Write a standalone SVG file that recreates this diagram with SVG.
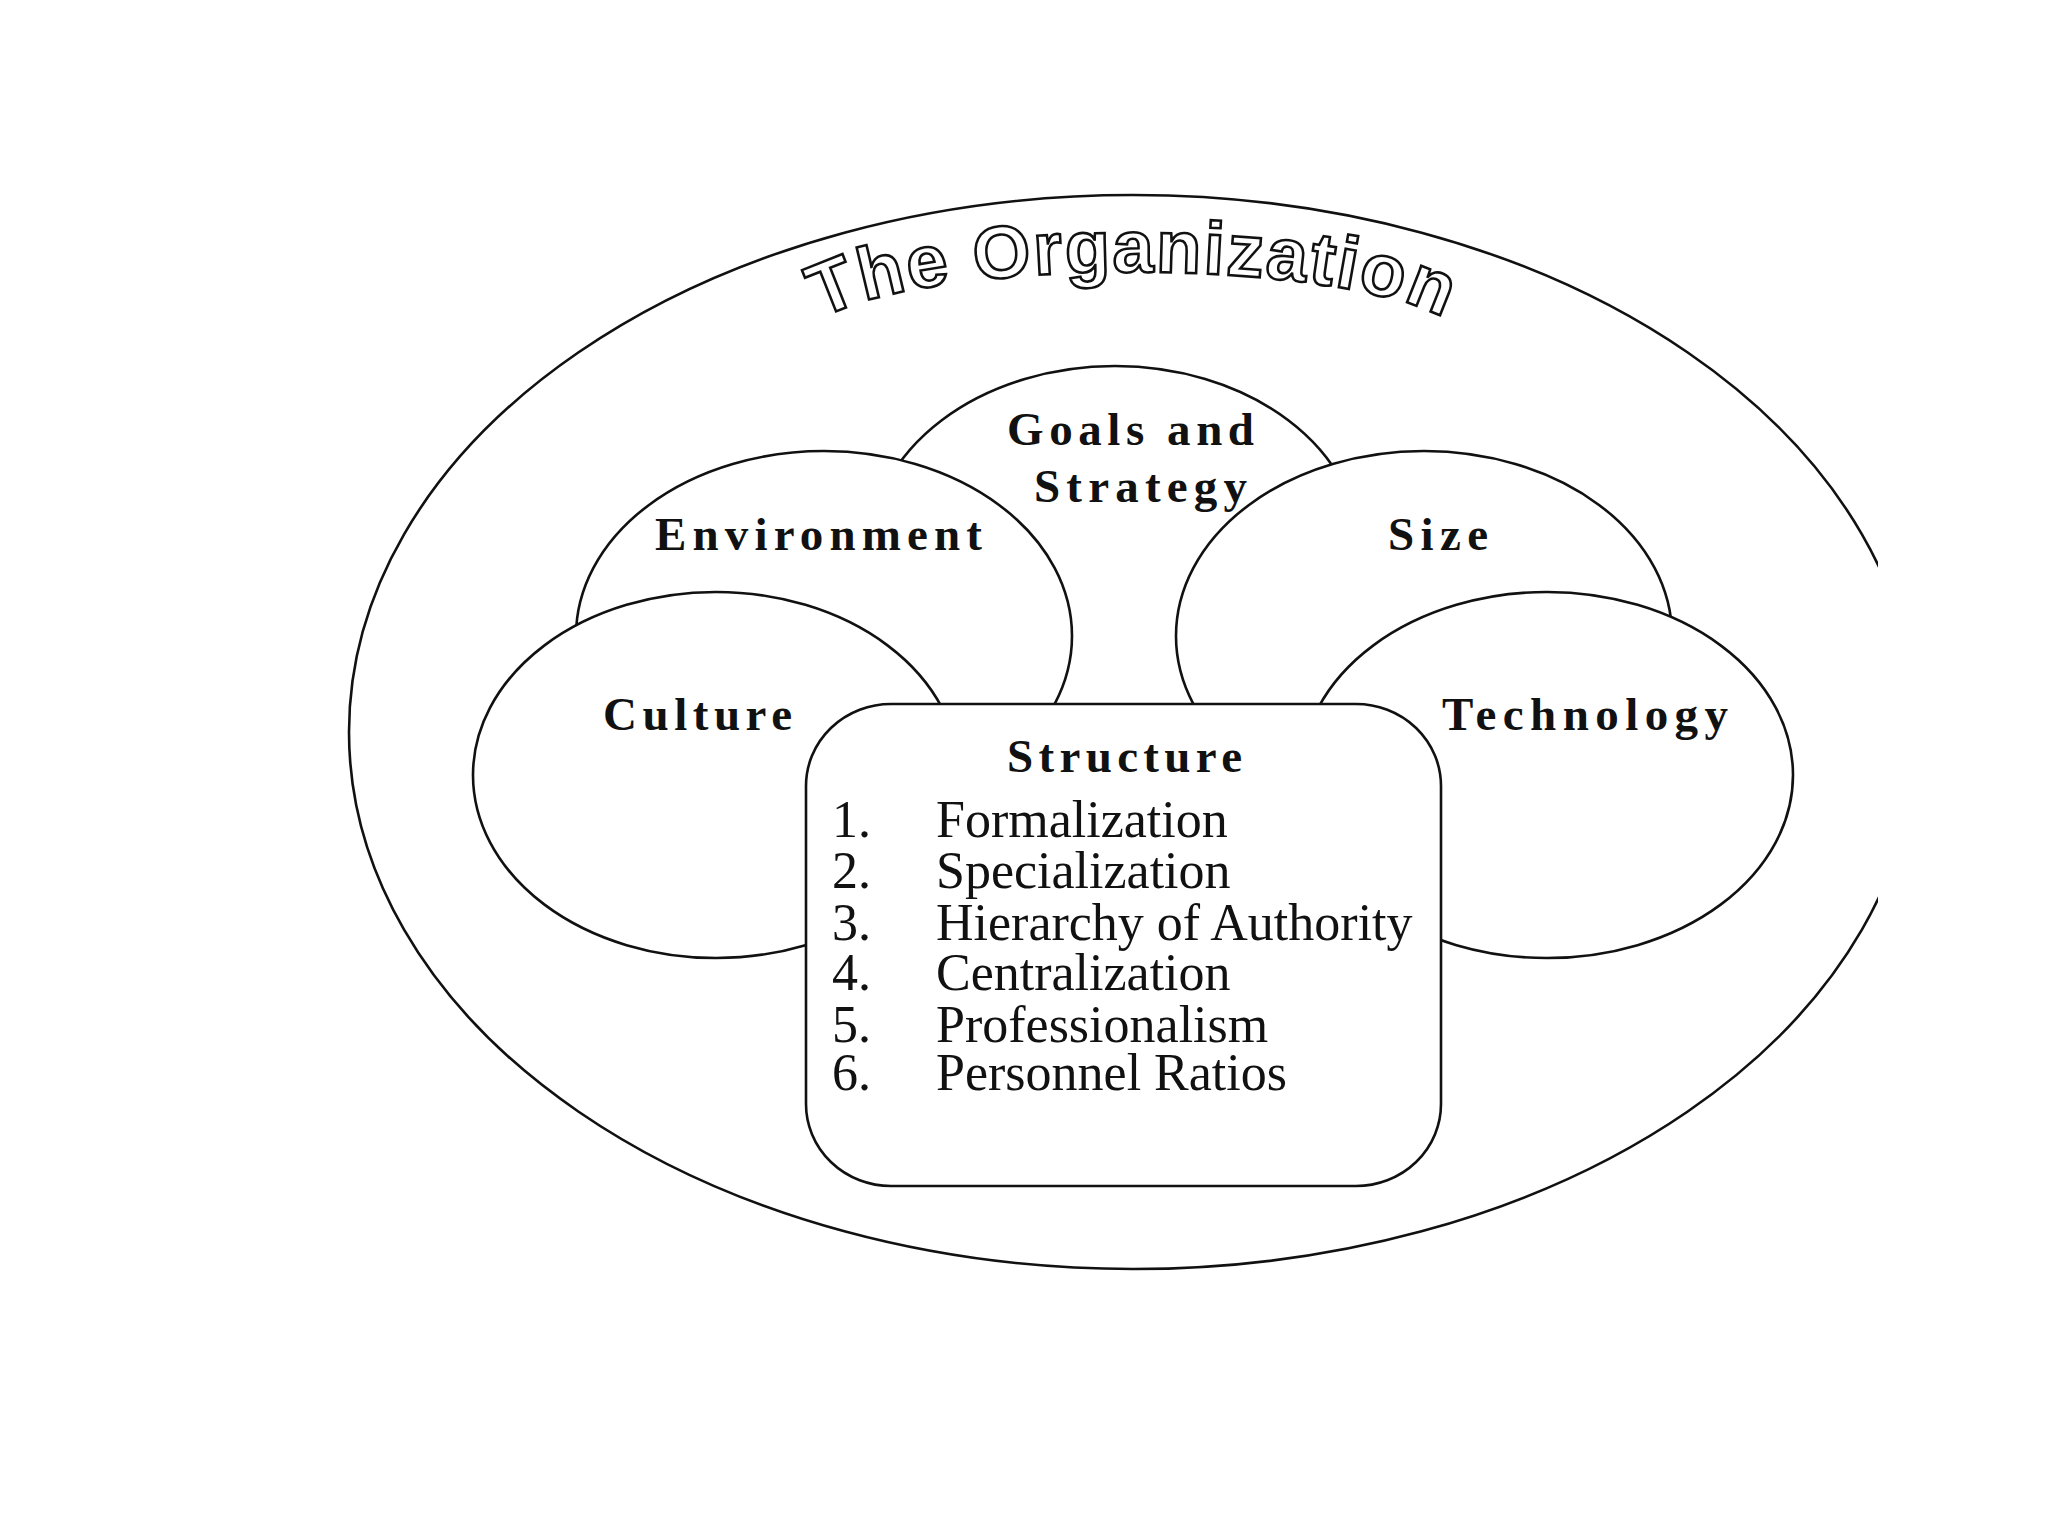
<svg xmlns="http://www.w3.org/2000/svg" width="2048" height="1536" viewBox="0 0 2048 1536">
<style>
.shape{fill:#fff;stroke:#111;stroke-width:2.6}
.lbl{font-family:"Liberation Serif","Times New Roman",serif;font-weight:bold;font-size:47px;fill:#111}
.item{font-family:"Liberation Serif","Times New Roman",serif;font-size:52px;fill:#111}
.title{font-family:"Liberation Sans",Arial,sans-serif;font-weight:bold;font-size:74px;fill:#fff;stroke:#111;stroke-width:2.6;letter-spacing:2px}
</style>
<defs>
<clipPath id="crop"><rect x="0" y="0" width="1878" height="1536"/></clipPath>
<path id="arc" d="M 803 342 A 330 70 0 0 1 1463 342"/>
</defs>
<rect x="0" y="0" width="2048" height="1536" fill="#fff"/>
<g id="organization">
<ellipse class="shape" cx="1133" cy="732" rx="784" ry="537" clip-path="url(#crop)"/>
<text class="title" text-anchor="middle"><textPath href="#arc" startOffset="50%">The Organization</textPath></text>
</g>
<g id="goals">
<ellipse class="shape" cx="1115" cy="551" rx="245" ry="185"/>
</g>
<g id="environment">
<ellipse class="shape" cx="824" cy="636" rx="248" ry="185"/>
<text class="lbl" x="655" y="550" textLength="327" lengthAdjust="spacing">Environment</text>
</g>
<g id="size">
<ellipse class="shape" cx="1424" cy="636" rx="248" ry="185"/>
<text class="lbl" x="1388" y="550" textLength="100" lengthAdjust="spacing">Size</text>
</g>
<g id="goals-label">
<text class="lbl" x="1007" y="445" textLength="247" lengthAdjust="spacing">Goals and</text>
<text class="lbl" x="1034" y="502" textLength="213" lengthAdjust="spacing">Strategy</text>
</g>
<g id="culture">
<ellipse class="shape" cx="716" cy="775" rx="243" ry="183"/>
<text class="lbl" x="603" y="730" textLength="189" lengthAdjust="spacing">Culture</text>
</g>
<g id="technology">
<ellipse class="shape" cx="1547" cy="775" rx="246" ry="183"/>
</g>
<g id="structure">
<rect class="shape" x="806" y="704" width="635" height="482" rx="85" ry="82"/>
<text class="lbl" x="1007" y="772" textLength="235" lengthAdjust="spacing">Structure</text>
<text class="item" x="832" y="837">1.</text><text class="item" x="936" y="837">Formalization</text>
<text class="item" x="832" y="888">2.</text><text class="item" x="936" y="888">Specialization</text>
<text class="item" x="832" y="940">3.</text><text class="item" x="936" y="940">Hierarchy of Authority</text>
<text class="item" x="832" y="990">4.</text><text class="item" x="936" y="990">Centralization</text>
<text class="item" x="832" y="1042">5.</text><text class="item" x="936" y="1042">Professionalism</text>
<text class="item" x="832" y="1090">6.</text><text class="item" x="936" y="1090">Personnel Ratios</text>
</g>
<g id="technology-label">
<text class="lbl" x="1442" y="730" textLength="286" lengthAdjust="spacing">Technology</text>
</g>
<g id="connectors"/>
</svg>
